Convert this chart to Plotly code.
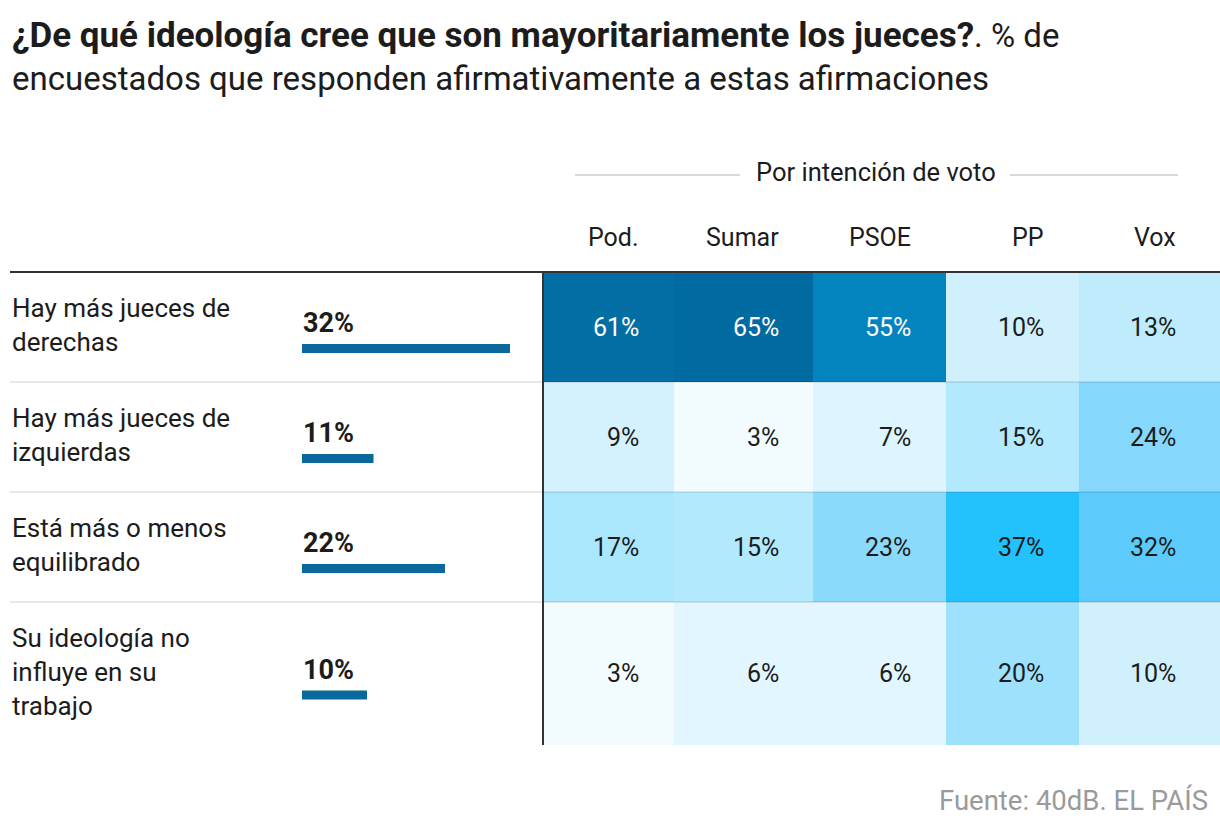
import plotly.graph_objects as go

# ---------------- data ----------------
statements = [
    "Hay más jueces de<br>derechas",
    "Hay más jueces de<br>izquierdas",
    "Está más o menos<br>equilibrado",
    "Su ideología no<br>influye en su<br>trabajo",
]
total = [32, 11, 22, 10]
parties = ["Pod.", "Sumar", "PSOE", "PP", "Vox"]
by_party = [
    [61, 65, 55, 10, 13],
    [9, 3, 7, 15, 24],
    [17, 15, 23, 37, 32],
    [3, 6, 6, 20, 10],
]
title_bold = "¿De qué ideología cree que son mayoritariamente los jueces?"
title_rest = ". % de<br>encuestados que responden afirmativamente a estas afirmaciones"
group_label = "Por intención de voto"
source = "Fuente: 40dB. EL PAÍS"

# ---------------- layout constants (pixels) ----------------
W, H = 1220, 830
FONT = "Roboto"
TXT = "#1c1c1c"
row_edges = [272, 382, 492, 602, 745]
row_centers = [(row_edges[i] + row_edges[i + 1]) / 2 for i in range(len(statements))]
col_edges = [543, 674, 813, 946, 1079, 1220]
col_text_right = [641, 781, 913, 1046, 1178]
heat_x0 = col_edges[0]
bar_x0 = 302
bar_px_per_100 = 650

colorscale_pts = [
    (3, "#f2fcfe"), (6, "#e1f6fe"), (10, "#cff0fc"), (15, "#b2e9fc"),
    (20, "#9de1fc"), (24, "#85d7fb"), (32, "#5ccbfb"), (37, "#23c1fd"),
    (55, "#0484bf"), (61, "#036ea3"), (65, "#016aa0"),
]
zmin, zmax = 3, 65
colorscale = [[(v - zmin) / (zmax - zmin), c] for v, c in colorscale_pts]

fig = go.Figure()

# heatmap of party values (cells bounded by column/row edges)
fig.add_trace(go.Heatmap(
    z=by_party, x=col_edges, y=row_edges,
    xaxis="x", yaxis="y",
    colorscale=colorscale, zmin=zmin, zmax=zmax,
    showscale=False, hoverinfo="skip", xgap=0, ygap=0,
))

# total bars
fig.add_trace(go.Bar(
    x=total, y=[c + 21.5 for c in row_centers], orientation="h",
    xaxis="x2", yaxis="y", width=9, marker=dict(color="#0a689c", line=dict(width=0)),
    hoverinfo="skip", showlegend=False,
))

annotations = []
# title
annotations.append(dict(
    x=10, y=56, xref="x", yref="y", xanchor="left", yanchor="middle", align="left",
    text=f"<b><span style='font-size:35px'>{title_bold}</span></b>{title_rest}",
    showarrow=False, font=dict(family=FONT, size=33, color=TXT),
))
# group label
annotations.append(dict(
    x=876, y=172, xref="x", yref="y", xanchor="center", yanchor="middle",
    text=group_label, showarrow=False, font=dict(family=FONT, size=25.5, color=TXT),
))
# column headers
for j, p in enumerate(parties):
    annotations.append(dict(
        x=col_text_right[j], y=237, xref="x", yref="y", xanchor="right", yanchor="middle",
        text=p, showarrow=False, font=dict(family=FONT, size=25, color=TXT),
    ))
# row labels & totals
for i, s in enumerate(statements):
    annotations.append(dict(
        x=10, y=row_centers[i] - 2, xref="x", yref="y", xanchor="left", yanchor="middle",
        align="left", text=s, showarrow=False, font=dict(family=FONT, size=26, color=TXT),
    ))
    annotations.append(dict(
        x=bar_x0 - 1, y=row_centers[i] - 4, xref="x", yref="y", xanchor="left", yanchor="middle",
        text=f"<b>{total[i]}%</b>", showarrow=False, font=dict(family=FONT, size=27, color=TXT),
    ))
# cell values
for i, row in enumerate(by_party):
    for j, v in enumerate(row):
        annotations.append(dict(
            x=col_text_right[j], y=row_centers[i], xref="x", yref="y", xanchor="right",
            yanchor="middle", text=f"{v}%", showarrow=False,
            font=dict(family=FONT, size=25, color="#ffffff" if v >= 50 else TXT),
        ))
# source
annotations.append(dict(
    x=1210, y=800, xref="x", yref="y", xanchor="right", yanchor="middle",
    text=source, showarrow=False, font=dict(family=FONT, size=27.5, color="#9a9a9a"),
))

shapes = [
    dict(type="line", x0=575, x1=740, y0=175, y1=175, xref="x", yref="y",
         line=dict(color="#cccccc", width=1.5)),
    dict(type="line", x0=1010, x1=1178, y0=175, y1=175, xref="x", yref="y",
         line=dict(color="#cccccc", width=1.5)),
]
for e in row_edges[1:-1]:
    shapes.append(dict(type="line", x0=10, x1=W, y0=e, y1=e, xref="x", yref="y",
                       line=dict(color="rgba(0,0,0,0.09)", width=2)))
shapes.append(dict(type="line", x0=10, x1=W, y0=row_edges[0], y1=row_edges[0],
                   xref="x", yref="y", line=dict(color="#333333", width=2)))
shapes.append(dict(type="line", x0=heat_x0, x1=heat_x0, y0=row_edges[0], y1=row_edges[-1],
                   xref="x", yref="y", line=dict(color="#333333", width=2)))

fig.update_layout(
    width=W, height=H, margin=dict(l=0, r=0, t=0, b=0),
    paper_bgcolor="white", plot_bgcolor="rgba(0,0,0,0)", showlegend=False,
    xaxis=dict(range=[0, W], domain=[0, 1], visible=False, fixedrange=True),
    yaxis=dict(range=[H, 0], domain=[0, 1], visible=False, fixedrange=True),
    xaxis2=dict(range=[0, 100], domain=[bar_x0 / W, (bar_x0 + bar_px_per_100) / W],
                anchor="y", visible=False, fixedrange=True),
    annotations=annotations, shapes=shapes,
)

fig.write_html("out.html", config={"displayModeBar": False})
